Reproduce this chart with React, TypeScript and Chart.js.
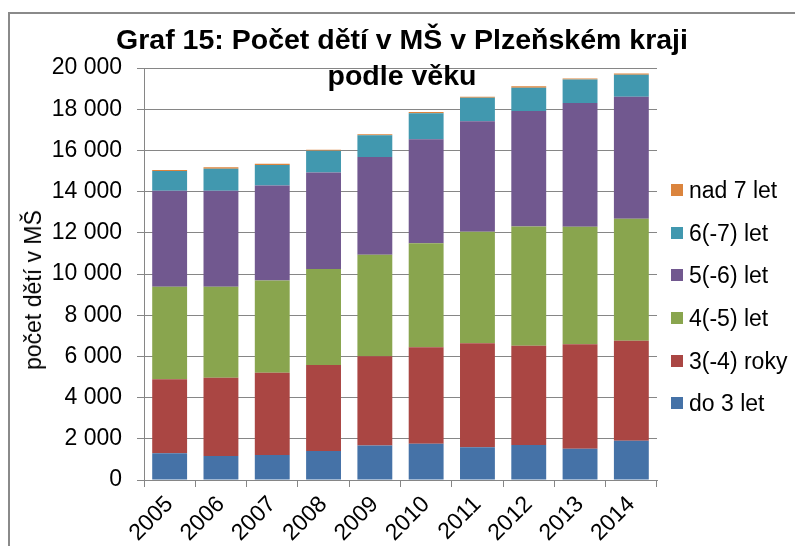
import React, { useEffect, useRef } from "react";
import { Chart, registerables } from "chart.js";

Chart.register(...registerables);

const years = ["2005", "2006", "2007", "2008", "2009", "2010", "2011", "2012", "2013", "2014"];
const do3 = [1300, 1165, 1210, 1410, 1670, 1760, 1590, 1700, 1520, 1910];
const r34 = [3590, 3800, 4000, 4170, 4335, 4680, 5045, 4820, 5065, 4850];
const r45 = [4495, 4420, 4480, 4660, 4935, 5050, 5420, 5780, 5710, 5920];
const r56 = [4660, 4660, 4610, 4690, 4740, 5050, 5355, 5615, 6000, 5925];
const r67 = [955, 1070, 990, 1050, 1050, 1260, 1150, 1130, 1150, 1065];
const nad7 = [50, 65, 65, 50, 50, 65, 50, 65, 50, 65];

const seriesNames = ["do 3 let", "3(-4) roky", "4(-5) let", "5(-6) let", "6(-7) let", "nad 7 let"];
const seriesColors = ["#4572A7", "#AA4643", "#89A54E", "#71588F", "#4198AF", "#DB843D"];
const seriesData = [do3, r34, r45, r56, r67, nad7];

const titleLines = ["Graf 15: Počet dětí v MŠ v Plzeňském kraji", "podle věku"];
const yTitle = "počet dětí v MŠ";

const FONT = "'Liberation Sans', Arial, sans-serif";
const GRID = "#868686";

function fmt(v: number): string {
  return String(v).replace(/\B(?=(\d{3})+(?!\d))/g, " ");
}

export default function App() {
  const ref = useRef<HTMLCanvasElement | null>(null);

  useEffect(() => {
    if (!ref.current) return;
    const chart = new Chart(ref.current, {
      type: "bar",
      data: {
        labels: years,
        datasets: seriesData.map((d, i) => ({
          label: seriesNames[i],
          data: d,
          backgroundColor: seriesColors[i],
          borderWidth: 0,
          barPercentage: 0.68,
          categoryPercentage: 1,
        })),
      },
      options: {
        animation: false,
        responsive: false,
        devicePixelRatio: 1,
        layout: { padding: { top: 68, right: 138, left: 0, bottom: 0 } },
        plugins: {
          legend: { display: false },
          title: { display: false },
          tooltip: { enabled: false },
        },
        scales: {
          x: {
            stacked: true,
            grid: {
              display: true,
              drawOnChartArea: false,
              drawTicks: true,
              tickLength: 7,
              color: GRID,
              offset: true,
            },
            border: { display: true, color: GRID, width: 1 },
            ticks: {
              minRotation: 45,
              maxRotation: 45,
              padding: 4,
              color: "#000",
              font: { family: FONT, size: 23 },
            },
            afterFit: (s: any) => {
              s.height = 66;
            },
          },
          y: {
            stacked: true,
            min: 0,
            max: 20000,
            grid: {
              drawOnChartArea: true,
              drawTicks: true,
              tickLength: 7,
              color: GRID,
            },
            border: { display: true, color: GRID, width: 1 },
            ticks: {
              stepSize: 2000,
              padding: 15,
              color: "#000",
              font: { family: FONT, size: 23 },
              callback: (v: any) => fmt(Number(v)),
            },
            afterFit: (s: any) => {
              s.width = 144;
            },
          },
        },
      },
    });
    return () => chart.destroy();
  }, []);

  return (
    <div
      style={{
        position: "fixed",
        left: 0,
        top: 0,
        width: 795,
        height: 546,
        overflow: "hidden",
        background: "#fff",
      }}
    >
      <div
        style={{
          position: "absolute",
          left: 8,
          top: 12,
          width: 1000,
          height: 800,
          border: "2px solid #8a8a8a",
          boxSizing: "border-box",
        }}
      />
      <canvas
        ref={ref}
        width={795}
        height={546}
        style={{ position: "absolute", left: 0, top: 0, width: 795, height: 546 }}
      />
      <div
        style={{
          position: "absolute",
          left: 402,
          top: 20.5,
          transform: "translateX(-50%)",
          fontFamily: FONT,
          fontWeight: "bold",
          fontSize: 28.5,
          lineHeight: "36px",
          textAlign: "center",
          whiteSpace: "nowrap",
          color: "#000",
        }}
      >
        {titleLines.map((t, i) => (
          <div key={i}>{t}</div>
        ))}
      </div>
      <div
        style={{
          position: "absolute",
          left: 33,
          top: 290,
          transform: "translate(-50%, -50%) rotate(-90deg)",
          fontFamily: FONT,
          fontSize: 23,
          lineHeight: "28px",
          whiteSpace: "nowrap",
          color: "#000",
        }}
      >
        {yTitle}
      </div>
      <div
        style={{
          position: "absolute",
          left: 671,
          top: 169,
          display: "flex",
          flexDirection: "column",
          fontFamily: FONT,
          fontSize: 23,
          color: "#000",
        }}
      >
        {seriesNames
          .map((n, i) => ({ n, c: seriesColors[i] }))
          .reverse()
          .map((it, i) => (
            <div
              key={i}
              style={{ display: "flex", alignItems: "center", height: 42.6, whiteSpace: "nowrap" }}
            >
              <span
                style={{ display: "inline-block", width: 12, height: 12, background: it.c, marginRight: 6 }}
              />
              <span style={{ lineHeight: "28px" }}>{it.n}</span>
            </div>
          ))}
      </div>
    </div>
  );
}
